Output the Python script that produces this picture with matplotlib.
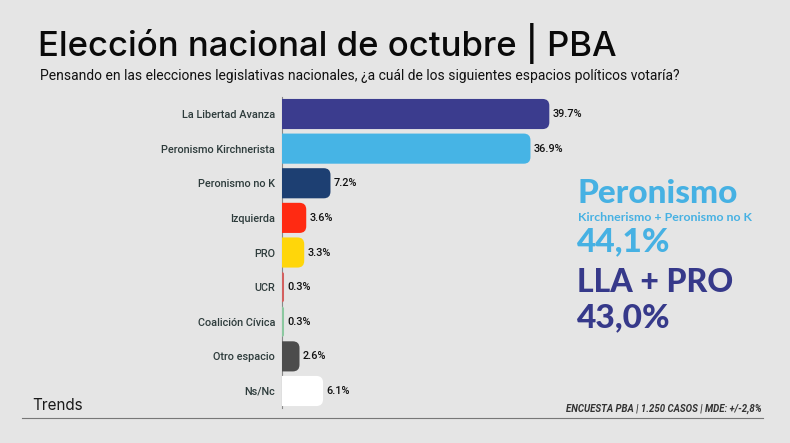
import matplotlib
matplotlib.use("Agg")
import matplotlib.pyplot as plt
from matplotlib.patches import FancyBboxPatch

categories = ["La Libertad Avanza", "Peronismo Kirchnerista", "Peronismo no K",
              "Izquierda", "PRO", "UCR", "Coalición Cívica", "Otro espacio", "Ns/Nc"]
values = [39.7, 36.9, 7.2, 3.6, 3.3, 0.3, 0.3, 2.6, 6.1]
value_labels = ["39.7%", "36.9%", "7.2%", "3.6%", "3.3%", "0.3%", "0.3%", "2.6%", "6.1%"]
colors = ["#3b3c8e", "#46b4e5", "#1d3f72", "#ff2a12", "#ffd60a", "#d3605f",
          "#8cc8a0", "#4c4c4c", "#ffffff"]

BG = "#e5e5e5"
fig = plt.figure(figsize=(7.9, 4.43), dpi=100, facecolor=BG)
ax = fig.add_axes([282/790, 1 - 408.3/443, 505/790, 311.6/443])
ax.set_facecolor(BG)

y = list(range(len(categories)))
bars = ax.barh(y, values, height=0.87, color="none")
ax.set_xlim(0, 75)
ax.set_ylim(len(categories) - 0.5, -0.5)

xpx = 505 / 75
ypx = 311.6 / 9
aspect = (1 / ypx) / (1 / xpx)
for b, c in zip(bars, colors):
    x0, y0 = b.get_x(), b.get_y()
    w, h = b.get_width(), b.get_height()
    r = min(1.0, w)
    p = FancyBboxPatch((x0 - 2, y0), w + 2, h,
                       boxstyle=f"round,pad=0,rounding_size={r}",
                       mutation_aspect=aspect, facecolor=c, edgecolor="none",
                       zorder=3)
    ax.add_patch(p)
    b.set_visible(False)

for yi, v, lab in zip(y, values, value_labels):
    ax.text(v + 0.45, yi, lab, va="center", ha="left", fontsize=7.8,
            color="#111111", family="Roboto", weight="medium")

ax.set_yticks(y)
ax.set_yticklabels(categories, fontsize=7.8, color="#2e3c3c", family="Roboto",
                   weight="medium")
ax.tick_params(axis="y", length=0, pad=5)
ax.set_xticks([])
for s in ["top", "right", "bottom"]:
    ax.spines[s].set_visible(False)
ax.spines["left"].set_color("#888888")
ax.spines["left"].set_linewidth(0.8)

fig.text(38/790, 1 - 56/443, "Elección nacional de octubre | PBA", fontsize=25,
         family="Inter", weight="medium", color="#0a0a0a", va="baseline", ha="left")
fig.text(40/790, 1 - 76/443, "Pensando en las elecciones legislativas nacionales, ¿a cuál de los siguientes espacios políticos votaría?",
         fontsize=10, family="Roboto", color="#111111", va="center", ha="left")

fig.text(577/790, 1 - 194/443, "Peronismo", fontsize=24, weight="black",
         family="Lato", color="#46b1e3", va="center", ha="left")
fig.text(578/790, 1 - 217/443, "Kirchnerismo + Peronismo no K", fontsize=8.9, weight="bold",
         family="Lato", color="#46b1e3", va="center", ha="left")
fig.text(577/790, 1 - 242/443, "44,1%", fontsize=24, weight="black",
         family="Lato", color="#46b1e3", va="center", ha="left")
fig.text(577/790, 1 - 283/443, "LLA + PRO", fontsize=23, weight="black",
         family="Lato", color="#36398a", va="center", ha="left")
fig.text(577/790, 1 - 318/443, "43,0%", fontsize=24, weight="black",
         family="Lato", color="#36398a", va="center", ha="left")

fig.text(32/790, 1 - 405/443, "Trends", fontsize=11, family="Inter",
         color="#1a1a1a", va="center", ha="left")
fig.text(762/790, 1 - 409/443, "ENCUESTA PBA | 1.250 CASOS | MDE: +/-2,8%", fontsize=6.9,
         family="Roboto", style="italic", weight="bold", color="#333333",
         va="center", ha="right")
fig.add_artist(plt.Line2D([22/790, 763/790], [1 - 418/443, 1 - 418/443],
                          transform=fig.transFigure, color="#777777", lw=0.8))

fig.savefig("out.png", dpi=100, facecolor=BG)
